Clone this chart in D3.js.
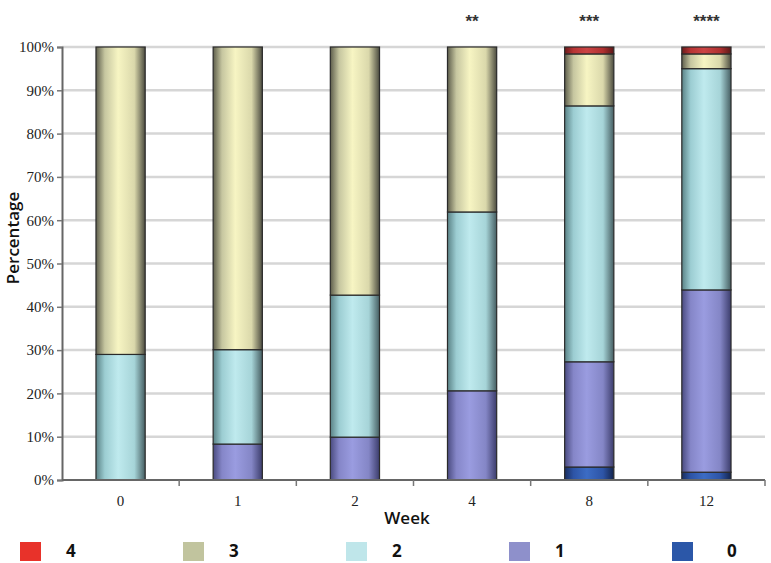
<!DOCTYPE html>
<html><head><meta charset="utf-8">
<script src="https://cdn.jsdelivr.net/npm/d3@7"></script>
<style>body{margin:0;background:#fff}</style>
</head><body>
<svg id="c" width="771" height="563"></svg>
<script>
const weeks = ["0","1","2","4","8","12"];
const seriesKeys = ["0","1","2","3","4"];
const s0 = [0, 0, 0, 0, 3.0, 1.8];
const s1 = [0, 8.3, 9.9, 20.6, 24.3, 42.1];
const s2 = [29, 21.8, 32.8, 41.3, 59.1, 51.1];
const s3 = [71, 69.9, 57.3, 38.1, 12.0, 3.4];
const s4 = [0, 0, 0, 0, 1.6, 1.6];
const stars = ["", "", "", "**", "***", "****"];
const yTicks = [0,10,20,30,40,50,60,70,80,90,100];
const legendOrder = ["4","3","2","1","0"];
const legendColor = {"4":"#e8322a","3":"#c1c49e","2":"#bfe6ea","1":"#8e90cb","0":"#2b57a8"};
const grad = {
  "0":["#1a2e60","#2d54a6","#3c6cc4","#2d54a6","#14244c"],
  "1":["#4a4b80","#8586c8","#9a9ce0","#8486c6","#3c3d6c"],
  "2":["#5a8286","#9ccdd2","#bfeaee","#a6d4d8","#465e62"],
  "3":["#5e5e4c","#c6c6a0","#f7f5c3","#dad8ab","#4c4c40"],
  "4":["#6a1c1c","#b83434","#cc4444","#b03030","#5a1818"]
};
const data = weeks.map((w,i)=>({week:w,"0":s0[i],"1":s1[i],"2":s2[i],"3":s3[i],"4":s4[i]}));

const svg = d3.select("#c");
const m = {l:62, r:6, t:47, b:83};
const W = 771, H = 563;
const x = d3.scaleBand().domain(weeks).range([m.l, W-m.r]).paddingInner(0.58).paddingOuter(0.29);
const xb = d3.scaleBand().domain(weeks).range([m.l, W-m.r]);
const y = d3.scaleLinear().domain([0,100]).range([H-m.b, m.t]);

const defs = svg.append("defs");
seriesKeys.forEach(k=>{
  const g = defs.append("linearGradient").attr("id","g"+k).attr("x1","0").attr("x2","1").attr("y1","0").attr("y2","0");
  const offs = [0,0.18,0.45,0.78,1];
  grad[k].forEach((c,i)=>g.append("stop").attr("offset",offs[i]).attr("stop-color",c));
});

// gridlines
svg.append("g").selectAll("line").data(yTicks.filter(d=>d>0)).join("line")
  .attr("x1", m.l).attr("x2", W-m.r).attr("y1", d=>y(d)).attr("y2", d=>y(d))
  .attr("stroke","#d6d6d6").attr("stroke-width",2.5);

// stacked bars
const stack = d3.stack().keys(seriesKeys)(data);
const gb = svg.append("g");
stack.forEach(layer=>{
  gb.append("g").selectAll("rect").data(layer.filter(d=>d[1]-d[0]>0)).join("rect")
    .attr("x", d=>x(d.data.week)).attr("width", x.bandwidth())
    .attr("y", d=>y(d[1])).attr("height", d=>y(d[0])-y(d[1]))
    .attr("fill","url(#g"+layer.key+")")
    .attr("stroke","#2a2a2a").attr("stroke-width",1.2);
});

// stars
svg.append("g").selectAll("text").data(weeks).join("text")
  .attr("x", d=>x(d)+x.bandwidth()/2).attr("y", 27)
  .attr("text-anchor","middle").attr("font-family","Liberation Sans, Arial").attr("font-weight","bold")
  .attr("font-size",17).attr("fill","#333").text((d,i)=>stars[i]);

// y axis
const ya = svg.append("g").attr("transform",`translate(${m.l},0)`)
  .call(d3.axisLeft(y).tickValues(yTicks).tickFormat(d=>d+"%").tickSize(5).tickPadding(3));
ya.select(".domain").attr("stroke","#666").attr("stroke-width",2);
ya.selectAll(".tick line").attr("stroke","#777").attr("stroke-width",1.5);
ya.selectAll("text").attr("font-family","Liberation Serif, Times New Roman, serif").attr("font-size",15).attr("fill","#222");

// x axis
const xa = svg.append("g").attr("transform",`translate(0,${H-m.b})`)
  .call(d3.axisBottom(x).tickSize(0).tickPadding(15));
xa.select(".domain").remove();
svg.append("line").attr("x1",m.l).attr("x2",W-m.r).attr("y1",H-m.b).attr("y2",H-m.b).attr("stroke","#666").attr("stroke-width",2);
svg.append("g").selectAll("line").data(weeks.slice(1).concat(["_end"])).join("line")
  .attr("x1", d=> d==="_end" ? W-m.r : xb(d)).attr("x2", d=> d==="_end" ? W-m.r : xb(d))
  .attr("y1",H-m.b).attr("y2",H-m.b+6).attr("stroke","#777").attr("stroke-width",1.5);
xa.selectAll("text").attr("font-family","Liberation Serif, Times New Roman, serif").attr("font-size",15).attr("fill","#222");

// axis titles
svg.append("text").attr("x",407).attr("y",524).attr("text-anchor","middle")
  .attr("font-family","Open Sans, Lato, sans-serif").attr("font-weight",600).attr("font-size",17).attr("fill","#111").text("Week");
svg.append("text").attr("transform","translate(19,238) rotate(-90)").attr("text-anchor","middle")
  .attr("font-family","Open Sans, Lato, sans-serif").attr("font-weight",600).attr("font-size",17).attr("fill","#111").text("Percentage");

// legend
const lx = d3.scalePoint().domain(legendOrder).range([20, 672]);
const lg = svg.append("g").selectAll("g").data(legendOrder).join("g")
  .attr("transform", d=>`translate(${lx(d)},542)`);
lg.append("rect").attr("width",21).attr("height",19).attr("fill",d=>legendColor[d]);
lg.append("text").attr("x",(d,i)=> i===4 ? 55 : 46).attr("y",15).attr("font-family","Open Sans, Lato, sans-serif")
  .attr("font-weight",700).attr("font-size",17).attr("fill","#111").text(d=>d);
</script>
</body></html>
